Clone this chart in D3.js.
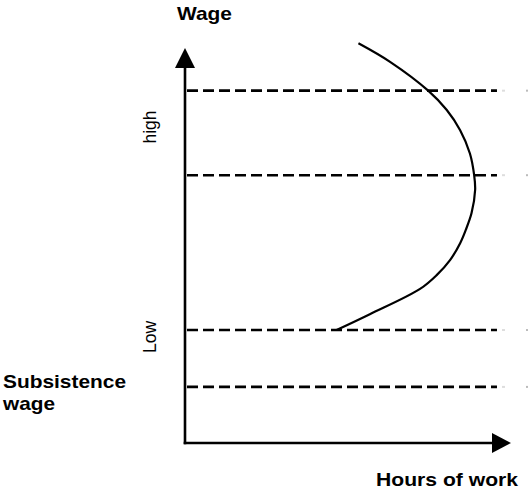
<!DOCTYPE html>
<html>
<head>
<meta charset="utf-8">
<script src="https://cdn.jsdelivr.net/npm/d3@7"></script>
<style>
  html, body { margin: 0; padding: 0; background: #fff; }
  svg { display: block; font-family: "Liberation Sans", Arial, Helvetica, sans-serif; }
</style>
</head>
<body>
<div id="chart"></div>
<script>
// ---- data ----
const supplyHours = [53.2, 62.9, 74.6, 80.3, 84.4, 87.4, 88.7, 89.0, 87.9, 86.1, 84.4, 81.3, 77.2, 72.1, 56.7, 46.5];
const supplyWages = [101.2, 96.5, 89.2, 84.3, 79.2, 73.3, 67.8, 64.1, 58.2, 53.9, 50.6, 46.3, 42.5, 39.0, 32.6, 28.6];
const dashedWages = [89.2, 67.8, 28.6, 14.2];
const dashedExtent = [0, 95.7];
const axisTitles = { y: "Wage", x: "Hours of work" };
const levelLabels = ["high", "Low"];
const subsistenceLabel = ["Subsistence", "wage"];

// ---- layout ----
const W = 530, H = 489;
const svg = d3.select("#chart").append("svg").attr("width", W).attr("height", H);

const x = d3.scaleLinear().domain([0, 100]).range([185, 511]);
const y = d3.scaleLinear().domain([0, 100]).range([443, 48]);

// dashed wage levels
svg.selectAll("line.level").data(dashedWages).enter().append("line")
  .attr("class", "level")
  .attr("x1", x(dashedExtent[0]) + 2).attr("x2", x(dashedExtent[1]))
  .attr("y1", d => y(d)).attr("y2", d => y(d))
  .attr("stroke", "#000").attr("stroke-width", 2.6)
  .attr("stroke-dasharray", "11,5");
// faint trailing marks
svg.selectAll("line.faint").data(dashedWages).enter().append("line")
  .attr("x1", x(dashedExtent[1]) + 5).attr("x2", x(dashedExtent[1]) + 8)
  .attr("y1", d => y(d)).attr("y2", d => y(d))
  .attr("stroke", "#ddd").attr("stroke-width", 2);
svg.selectAll("line.faint2").data(dashedWages).enter().append("line")
  .attr("x1", x(dashedExtent[1]) + 29).attr("x2", x(dashedExtent[1]) + 31)
  .attr("y1", d => y(d)).attr("y2", d => y(d))
  .attr("stroke", "#bbb").attr("stroke-width", 2);

// supply curve
const pts = supplyHours.map((h, i) => [h, supplyWages[i]]);
svg.append("path")
  .attr("d", d3.line().x(d => x(d[0])).y(d => y(d[1])).curve(d3.curveCatmullRom.alpha(0.5))(pts))
  .attr("fill", "none").attr("stroke", "#000").attr("stroke-width", 2.2)
  .attr("stroke-linejoin", "round");

// axes
const x0 = x(0), y0 = y(0);
svg.append("line").attr("x1", x0).attr("x2", x0).attr("y1", y0 + 1.3).attr("y2", y(95))
  .attr("stroke", "#000").attr("stroke-width", 2.6);
svg.append("line").attr("x1", x0 - 1.3).attr("x2", x(95)).attr("y1", y0).attr("y2", y0)
  .attr("stroke", "#000").attr("stroke-width", 2.6);
// arrowheads
const yTip = y(100);
svg.append("path").attr("d", `M${x0},${yTip} L${x0 - 10},${yTip + 20} L${x0 + 10},${yTip + 20} Z`).attr("fill", "#000");
const xTip = x(100);
svg.append("path").attr("d", `M${xTip},${y0} L${xTip - 19},${y0 - 10} L${xTip - 19},${y0 + 10} Z`).attr("fill", "#000");

// axis titles
svg.append("text").attr("x", 177).attr("y", 20)
  .attr("font-size", 19).attr("font-weight", "bold")
  .attr("textLength", 55).attr("lengthAdjust", "spacingAndGlyphs")
  .text(axisTitles.y);
svg.append("text").attr("x", 376).attr("y", 486)
  .attr("font-size", 19).attr("font-weight", "bold")
  .attr("textLength", 142).attr("lengthAdjust", "spacingAndGlyphs")
  .text(axisTitles.x);

// level labels (rotated)
const levelPos = [[156, 127], [156, 337]];
levelLabels.forEach((t, i) => {
  svg.append("text")
    .attr("transform", `translate(${levelPos[i][0]},${levelPos[i][1]}) rotate(-90)`)
    .attr("text-anchor", "middle")
    .attr("font-size", 17.5)
    .text(t);
});

// subsistence label
svg.append("text").attr("x", 3).attr("y", 388)
  .attr("font-size", 19).attr("font-weight", "bold")
  .attr("textLength", 123).attr("lengthAdjust", "spacingAndGlyphs")
  .text(subsistenceLabel[0]);
svg.append("text").attr("x", 3).attr("y", 410)
  .attr("font-size", 19).attr("font-weight", "bold")
  .attr("textLength", 52).attr("lengthAdjust", "spacingAndGlyphs")
  .text(subsistenceLabel[1]);
</script>
</body>
</html>
